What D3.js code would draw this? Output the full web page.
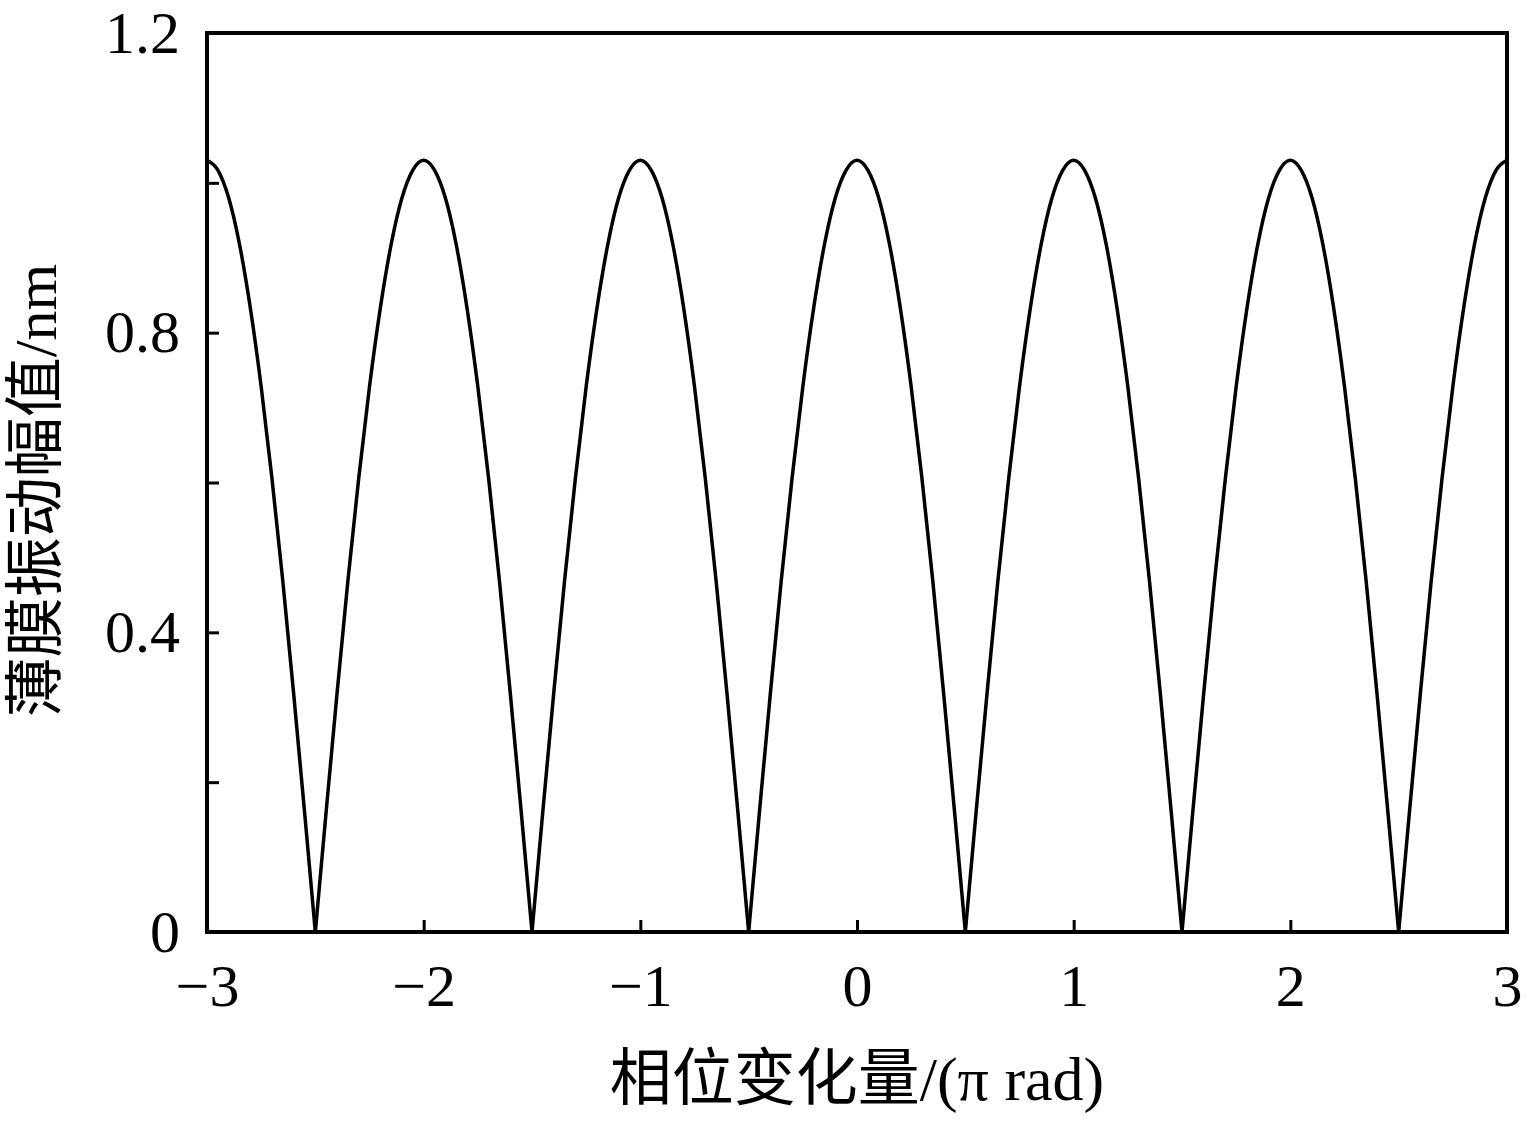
<!DOCTYPE html>
<html>
<head>
<meta charset="utf-8">
<script src="https://cdn.jsdelivr.net/npm/d3@7"></script>
<style>
  body { margin: 0; background: #fff; }
  text { fill: #000; }
</style>
</head>
<body>
<div id="chart"></div>
<script>
// phase change (units of pi rad)
const phase = [
  -3.00, -2.95, -2.90, -2.85, -2.80, -2.75, -2.70, -2.65, -2.60, -2.55,
  -2.50, -2.45, -2.40, -2.35, -2.30, -2.25, -2.20, -2.15, -2.10, -2.05,
  -2.00, -1.95, -1.90, -1.85, -1.80, -1.75, -1.70, -1.65, -1.60, -1.55,
  -1.50, -1.45, -1.40, -1.35, -1.30, -1.25, -1.20, -1.15, -1.10, -1.05,
  -1.00, -0.95, -0.90, -0.85, -0.80, -0.75, -0.70, -0.65, -0.60, -0.55,
  -0.50, -0.45, -0.40, -0.35, -0.30, -0.25, -0.20, -0.15, -0.10, -0.05,
   0.00,  0.05,  0.10,  0.15,  0.20,  0.25,  0.30,  0.35,  0.40,  0.45,
   0.50,  0.55,  0.60,  0.65,  0.70,  0.75,  0.80,  0.85,  0.90,  0.95,
   1.00,  1.05,  1.10,  1.15,  1.20,  1.25,  1.30,  1.35,  1.40,  1.45,
   1.50,  1.55,  1.60,  1.65,  1.70,  1.75,  1.80,  1.85,  1.90,  1.95,
   2.00,  2.05,  2.10,  2.15,  2.20,  2.25,  2.30,  2.35,  2.40,  2.45,
   2.50,  2.55,  2.60,  2.65,  2.70,  2.75,  2.80,  2.85,  2.90,  2.95,
   3.00
];

// membrane vibration amplitude (nm)
const amplitude = [
  1.03, 1.017, 0.98, 0.918, 0.833, 0.728, 0.605, 0.468, 0.318, 0.161,
  0, 0.161, 0.318, 0.468, 0.605, 0.728, 0.833, 0.918, 0.98, 1.017,
  1.03, 1.017, 0.98, 0.918, 0.833, 0.728, 0.605, 0.468, 0.318, 0.161,
  0, 0.161, 0.318, 0.468, 0.605, 0.728, 0.833, 0.918, 0.98, 1.017,
  1.03, 1.017, 0.98, 0.918, 0.833, 0.728, 0.605, 0.468, 0.318, 0.161,
  0, 0.161, 0.318, 0.468, 0.605, 0.728, 0.833, 0.918, 0.98, 1.017,
  1.03, 1.017, 0.98, 0.918, 0.833, 0.728, 0.605, 0.468, 0.318, 0.161,
  0, 0.161, 0.318, 0.468, 0.605, 0.728, 0.833, 0.918, 0.98, 1.017,
  1.03, 1.017, 0.98, 0.918, 0.833, 0.728, 0.605, 0.468, 0.318, 0.161,
  0, 0.161, 0.318, 0.468, 0.605, 0.728, 0.833, 0.918, 0.98, 1.017,
  1.03, 1.017, 0.98, 0.918, 0.833, 0.728, 0.605, 0.468, 0.318, 0.161,
  0, 0.161, 0.318, 0.468, 0.605, 0.728, 0.833, 0.918, 0.98, 1.017,
  1.03
];

const xTicks = [-3, -2, -1, 0, 1, 2, 3];
const yTicks = [0, 0.2, 0.4, 0.6, 0.8, 1.0, 1.2];
const yLabelTicks = [0, 0.4, 0.8, 1.2];

const xTitle = '相位变化量/(π rad)';
const yTitle = '薄膜振动幅值/nm';

const width = 1527;
const height = 1121;
const margin = {top: 33, right: 20, bottom: 189, left: 207};
const innerW = width - margin.left - margin.right;
const innerH = height - margin.top - margin.bottom;
const font = '"Liberation Serif", "Times New Roman", "Noto Sans CJK SC", serif';

const svg = d3.select('#chart').append('svg')
    .attr('width', width)
    .attr('height', height);

const x = d3.scaleLinear().domain([-3, 3]).range([0, innerW]);
const y = d3.scaleLinear().domain([0, 1.2]).range([innerH, 0]);

const g = svg.append('g')
    .attr('transform', `translate(${margin.left},${margin.top})`);

g.append('defs').append('clipPath')
    .attr('id', 'plot-clip')
    .append('rect')
    .attr('width', innerW)
    .attr('height', innerH);

// x axis: ticks point inward
const xAxis = g.append('g')
    .attr('transform', `translate(0,${innerH})`)
    .call(d3.axisBottom(x).tickValues(xTicks).tickSizeInner(-12).tickSizeOuter(0)
        .tickPadding(31).tickFormat(d => d < 0 ? '\u2212' + Math.abs(d) : d));

const yAxis = g.append('g')
    .call(d3.axisLeft(y).tickValues(yTicks).tickSizeInner(-12).tickSizeOuter(0)
        .tickPadding(27).tickFormat(d => yLabelTicks.includes(d) ? (d === 0 ? '0' : d3.format('.1f')(d)) : ''));

[xAxis, yAxis].forEach(a => {
    a.select('.domain').remove();
    a.selectAll('line').attr('stroke', '#000').attr('stroke-width', 3);
    a.selectAll('text')
        .attr('font-family', font)
        .attr('font-size', 60)
        .attr('fill', '#000');
});
xAxis.selectAll('text').attr('dy', '0.71em');

// frame
g.append('rect')
    .attr('width', innerW)
    .attr('height', innerH)
    .attr('fill', 'none')
    .attr('stroke', '#000')
    .attr('stroke-width', 4);

// split the curve into arches at the zeros so the cusps stay sharp
const pts = amplitude.map((a, i) => ({x: phase[i], y: a}));
const arches = [];
let cur = [];
pts.forEach(p => {
    cur.push(p);
    if (p.y === 0) {
        arches.push(cur);
        cur = [p];
    }
});
arches.push(cur);

const line = d3.line()
    .x(d => x(d.x))
    .y(d => y(d.y))
    .curve(d3.curveMonotoneX);

g.append('g')
    .attr('clip-path', 'url(#plot-clip)')
    .selectAll('path')
    .data(arches)
    .join('path')
    .attr('fill', 'none')
    .attr('stroke', '#000')
    .attr('stroke-width', 3.5)
    .attr('stroke-linejoin', 'miter')
    .attr('d', line);

// axis titles
svg.append('text')
    .attr('x', margin.left + x(0))
    .attr('y', 1100)
    .attr('text-anchor', 'middle')
    .attr('font-family', font)
    .attr('font-size', 62)
    .text(xTitle);

svg.append('text')
    .attr('transform', `translate(56,${margin.top + innerH / 2 + 8}) rotate(-90)`)
    .attr('text-anchor', 'middle')
    .attr('font-family', font)
    .attr('font-size', 60)
    .text(yTitle);
</script>
</body>
</html>
